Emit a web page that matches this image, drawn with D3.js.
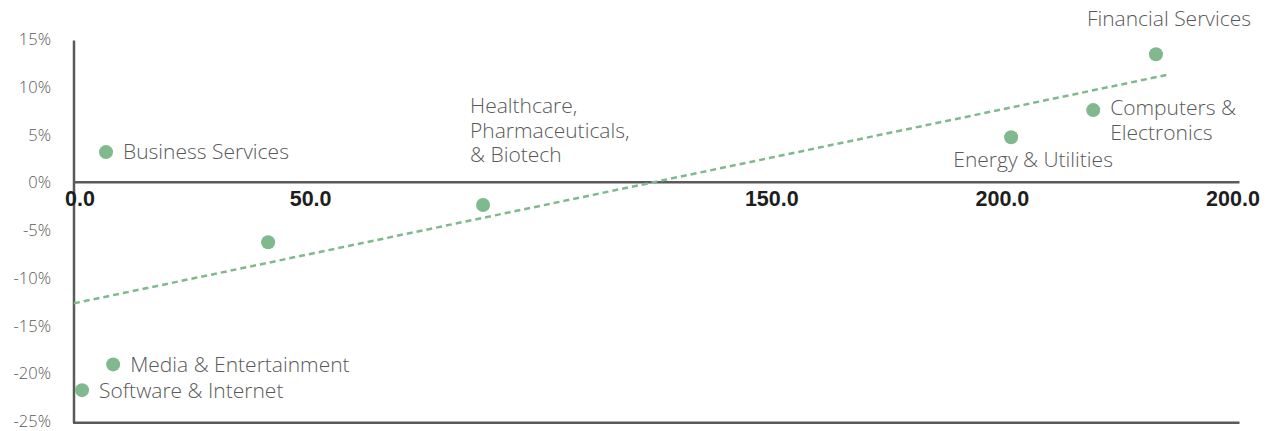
<!DOCTYPE html>
<html>
<head>
<meta charset="utf-8">
<script src="https://cdn.jsdelivr.net/npm/d3@7/dist/d3.min.js"></script>
<style>
  html, body { margin: 0; padding: 0; background: #fff; }
  svg { display: block; }
</style>
</head>
<body>
<svg id="chart" width="1273" height="431"></svg>
<script>
// Industry sectors: x value vs. return (%)
const sectors = ["Business Services", "Media & Entertainment", "Software & Internet", "",
  "Healthcare, Pharmaceuticals, & Biotech", "Energy & Utilities", "Computers & Electronics", "Financial Services"];
const xValues = [5.75, 7.3, 0.55, 40.9, 87.5, 202.0, 219.8, 233.4];
const yValues = [3.15, -19.1, -21.8, -6.3, -2.4, 4.7, 7.55, 13.4];

// Label lines per sector (multi-line labels split by row)
const labelLines = [
  ["Business Services"],
  ["Media & Entertainment"],
  ["Software & Internet"],
  [],
  ["Healthcare,", "Pharmaceuticals,", "& Biotech"],
  ["Energy & Utilities"],
  ["Computers &", "Electronics"],
  ["Financial Services"]
];
// Label placement relative to the dot
const labelPlacement = ["right", "right", "right", "none", "aboveLeft", "below", "right", "above"];

// Linear trend line endpoints
const trendX = [-1.2, 236];
const trendY = [-12.7, 11.26];

// Axis ticks
const xTickValues = [0, 50, 100, 150, 200, 250];
const xTickLabels = ["0.0", "50.0", "", "150.0", "200.0", "200.0"];
const yTickValues = [15, 10, 5, 0, -5, -10, -15, -20, -25];
const yTickLabels = ["15%", "10%", "5%", "0%", "-5%", "-10%", "-15%", "-20%", "-25%"];

const svg = d3.select("#chart");
const dotColor = "#7fb98d";
const textColor = "#595959";
const axisColor = "#5a5a5a";
const font = "'Open Sans', Lato, sans-serif";

const x = d3.scaleLinear().domain([0, 250]).range([79.5, 1232.5]);
const y = d3.scaleLinear().domain([-25, 15]).range([420.7, 39]);
const plotLeft = 74;
const plotRight = x(250) + 7;

// Y axis labels
const yAxis = d3.axisLeft(y).tickValues(yTickValues)
  .tickFormat((d, i) => yTickLabels[i]).tickSize(0).tickPadding(0);
const gy = svg.append("g").attr("transform", "translate(51,0)").call(yAxis);
gy.select(".domain").remove();
gy.selectAll("text").attr("fill", textColor).style("font-family", font)
  .style("font-size", "16.5px").style("font-weight", 300).attr("dy", "0.35em");

// Y axis line and bottom frame line
svg.append("line").attr("x1", plotLeft).attr("x2", plotLeft)
  .attr("y1", y(15) + 1.5).attr("y2", y(-25) + 2)
  .attr("stroke", axisColor).attr("stroke-width", 2.5);
svg.append("line").attr("x1", plotLeft - 1).attr("x2", plotRight)
  .attr("y1", y(-25) + 2).attr("y2", y(-25) + 2)
  .attr("stroke", axisColor).attr("stroke-width", 2.5);

// X axis at zero
const xAxis = d3.axisBottom(x).tickValues(xTickValues)
  .tickFormat((d, i) => xTickLabels[i]).tickSize(0).tickPadding(9);
const gx = svg.append("g").attr("transform", `translate(0,${y(0)})`).call(xAxis);
gx.select(".domain").remove();
gx.selectAll("text").attr("fill", "#1e1e1e").style("font-family", "'Liberation Sans', Arial, sans-serif")
  .style("font-size", "21.5px").style("font-weight", "bold");
svg.append("line").attr("x1", plotLeft).attr("x2", plotRight)
  .attr("y1", y(0)).attr("y2", y(0))
  .attr("stroke", axisColor).attr("stroke-width", 2.5);

// Trend line
svg.append("line")
  .attr("x1", x(trendX[0])).attr("y1", y(trendY[0]))
  .attr("x2", x(trendX[1])).attr("y2", y(trendY[1]))
  .attr("stroke", dotColor).attr("stroke-width", 2.5)
  .attr("stroke-dasharray", "6,4");

// Points
const data = sectors.map((s, i) => ({ name: s, x: xValues[i], y: yValues[i], lines: labelLines[i], place: labelPlacement[i] }));
svg.append("g").selectAll("circle").data(data).join("circle")
  .attr("cx", d => x(d.x)).attr("cy", d => y(d.y)).attr("r", 7)
  .attr("fill", dotColor);

// Labels
const lineH = 24.5;
const labels = svg.append("g").style("font-family", font).style("font-size", "21px")
  .style("font-weight", 300).attr("fill", textColor);
data.forEach(d => {
  if (!d.lines.length) return;
  const cx = x(d.x), cy = y(d.y);
  let tx, ty, anchor;
  const n = d.lines.length;
  if (d.place === "right") {
    tx = cx + 17; anchor = "start";
    ty = cy - (n - 1) * lineH / 2 + (n > 1 ? 10 : 0);
  } else if (d.place === "above") {
    tx = cx + 13; anchor = "middle"; ty = cy - 36;
  } else if (d.place === "below") {
    tx = cx + 22; anchor = "middle"; ty = cy + 22;
  } else {
    tx = cx - 13; anchor = "start"; ty = cy - 99;
  }
  const t = labels.append("text").attr("text-anchor", anchor);
  d.lines.forEach((ln, j) => {
    t.append("tspan").attr("x", tx).attr("y", ty + j * lineH).attr("dy", "0.35em").text(ln);
  });
});
</script>
</body>
</html>
